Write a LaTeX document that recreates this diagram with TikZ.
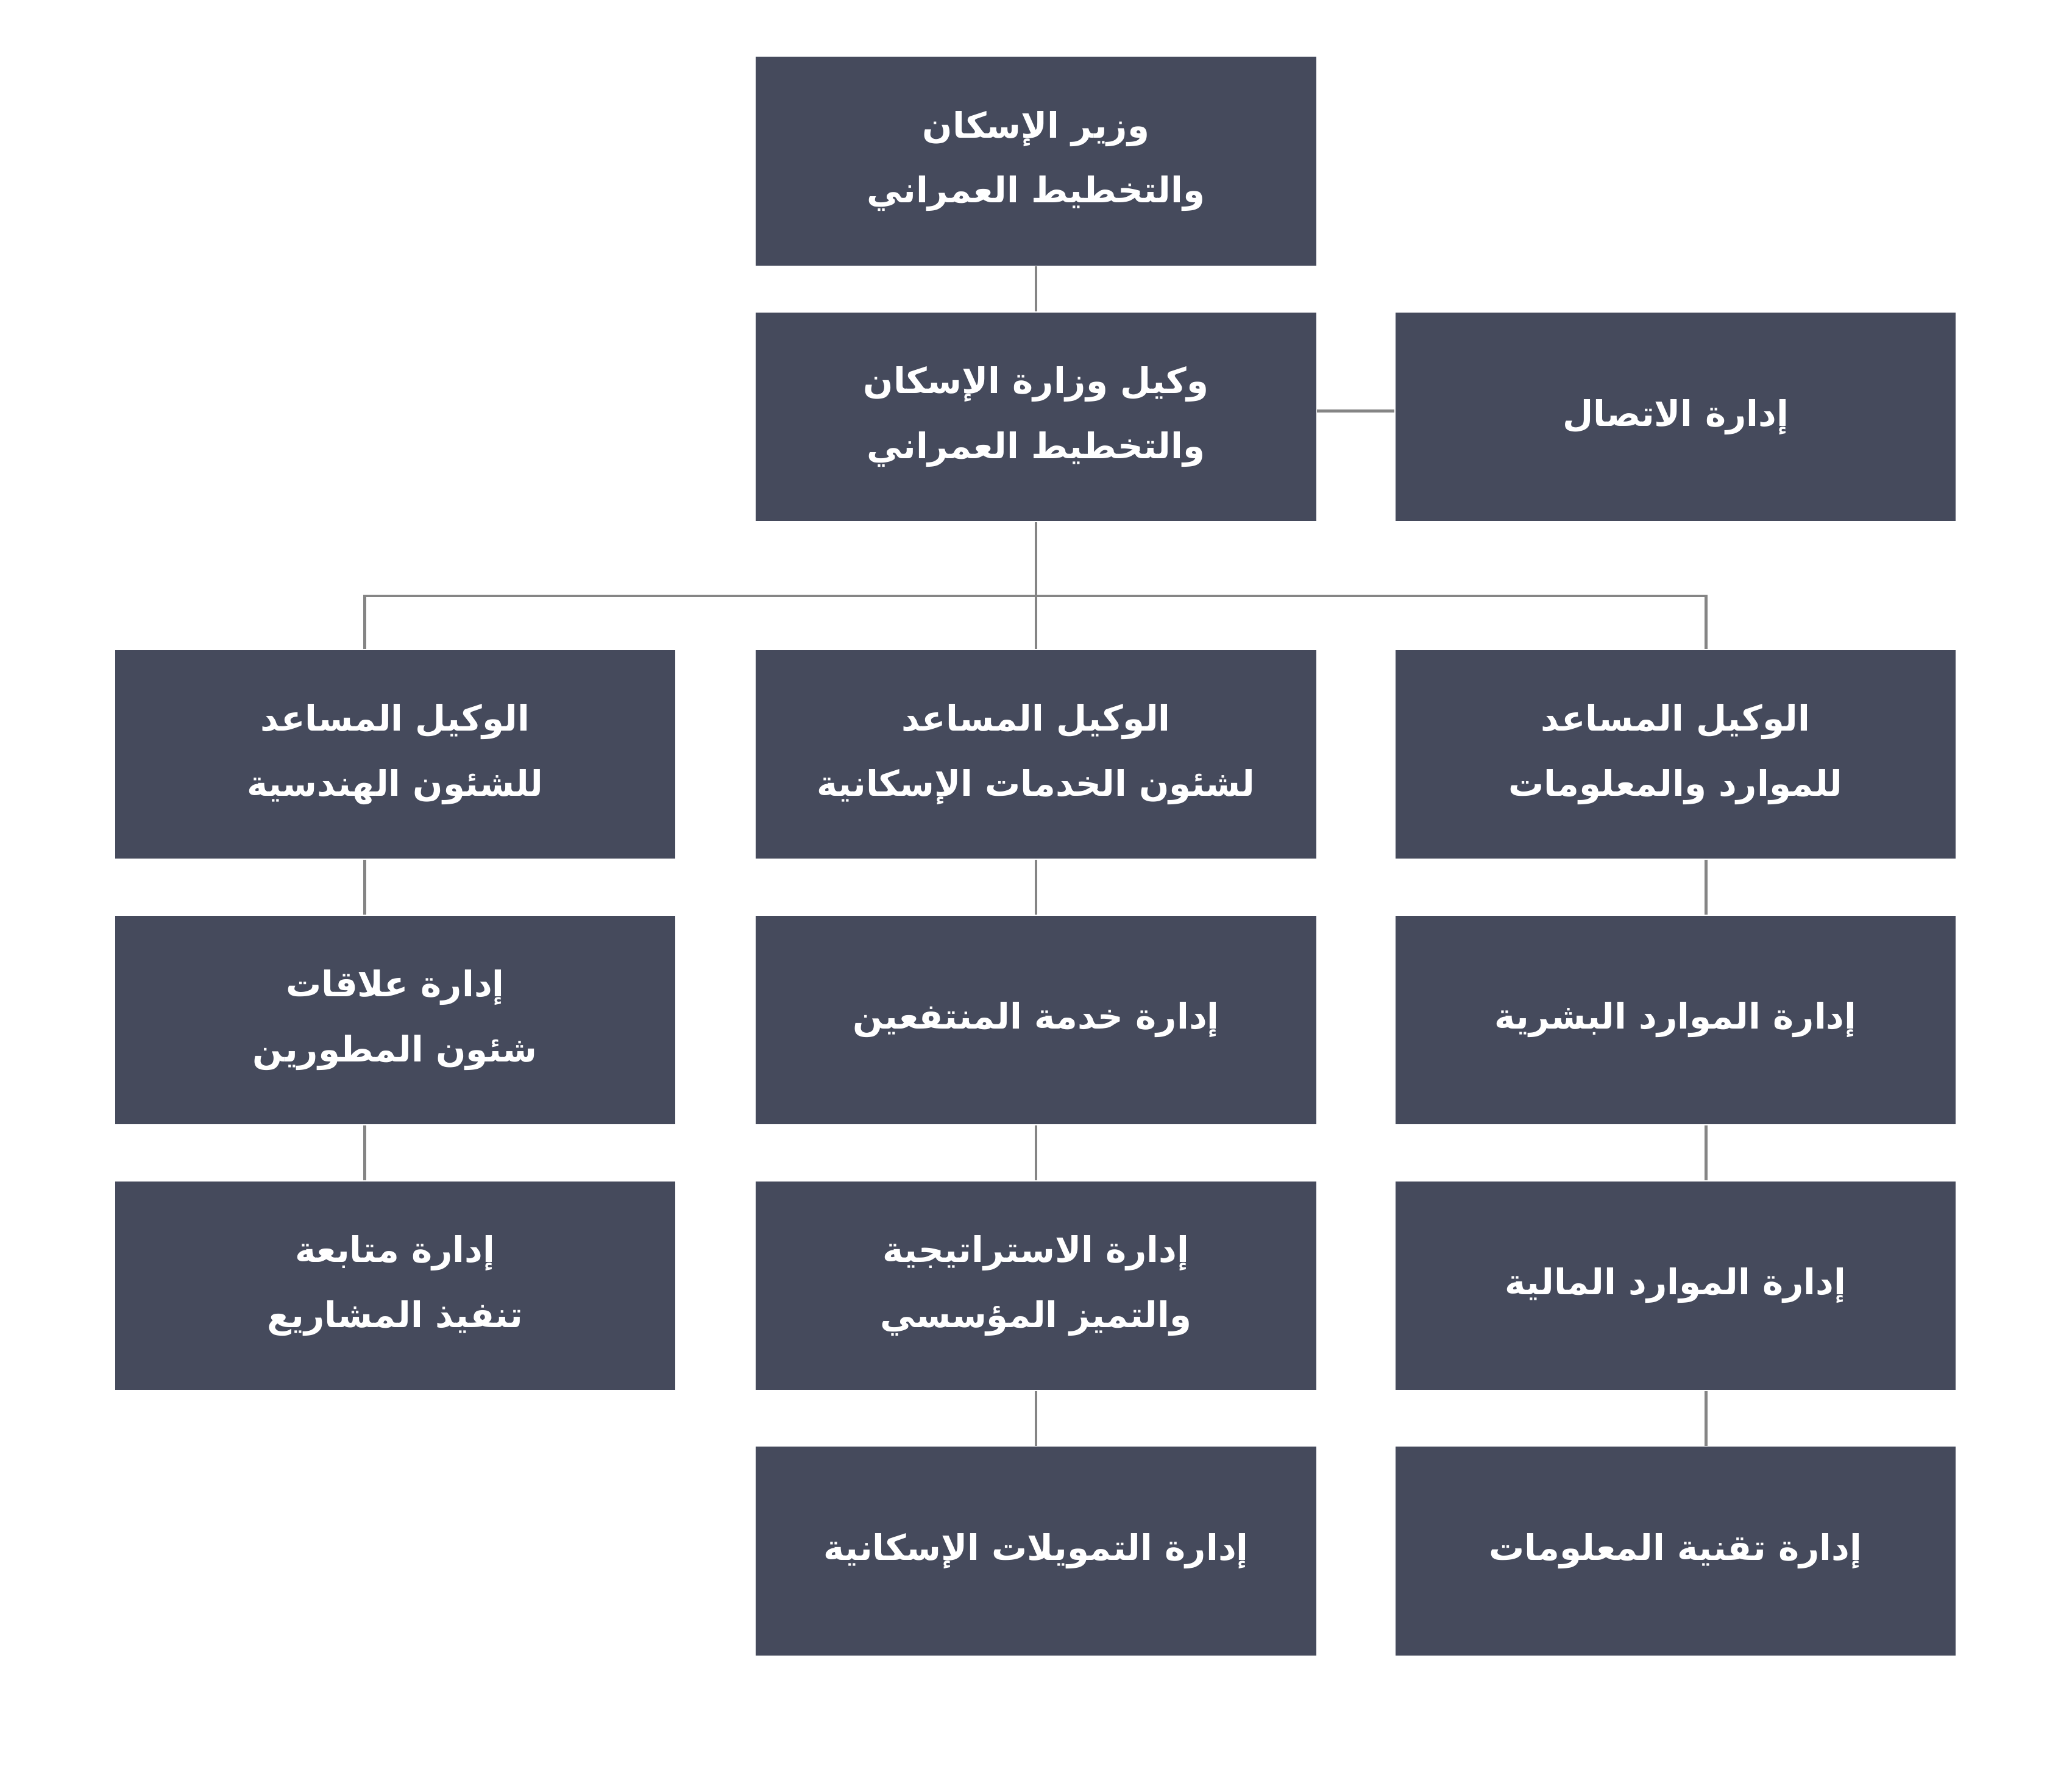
\documentclass[tikz,border=0pt]{standalone}
\usepackage{fontspec}
\newfontfamily\arabicfont[Script=Arabic]{DejaVu Sans}
\TeXXeTstate=1
\newcommand{\arline}[1]{\beginR #1\endR}
\definecolor{boxslate}{HTML}{454A5C}
\definecolor{linkgrey}{HTML}{858585}

\begin{document}
\begin{tikzpicture}[
  unit/.style={fill=boxslate,text=white,minimum width=4.24cm,minimum height=1.58cm,
    inner sep=0pt,align=center,font=\arabicfont\bfseries\fontsize{7.6}{14}\selectfont},
  link/.style={draw=linkgrey,line width=0.6pt}]
  \useasboundingbox (0,0) rectangle (15.68,-13.43);
  % القمة
  \node[unit] (minister) at (7.84,-1.22) {\arline{وزير الإسكان}\\\arline{والتخطيط العمراني}};
  \node[unit] (deputy) at (7.84,-3.155) {\arline{وكيل وزارة الإسكان}\\\arline{والتخطيط العمراني}};
  \node[unit] (comms) at (12.68,-3.155) {\arline{إدارة الاتصال}};
  % الوكلاء المساعدون
  \node[unit] (engAsst) at (2.99,-5.71) {\arline{الوكيل المساعد}\\\arline{للشئون الهندسية}};
  \node[unit] (svcAsst) at (7.84,-5.71) {\arline{الوكيل المساعد}\\\arline{لشئون الخدمات الإسكانية}};
  \node[unit] (resAsst) at (12.68,-5.71) {\arline{الوكيل المساعد}\\\arline{للموارد والمعلومات}};
  % الإدارات
  \node[unit] (devRel) at (2.99,-7.72) {\arline{إدارة علاقات}\\\arline{شئون المطورين}};
  \node[unit] (projFollow) at (2.99,-9.73) {\arline{إدارة متابعة}\\\arline{تنفيذ المشاريع}};
  \node[unit] (beneficiary) at (7.84,-7.72) {\arline{إدارة خدمة المنتفعين}};
  \node[unit] (strategy) at (7.84,-9.73) {\arline{إدارة الاستراتيجية}\\\arline{والتميز المؤسسي}};
  \node[unit] (finance) at (7.84,-11.74) {\arline{إدارة التمويلات الإسكانية}};
  \node[unit] (hr) at (12.68,-7.72) {\arline{إدارة الموارد البشرية}};
  \node[unit] (money) at (12.68,-9.73) {\arline{إدارة الموارد المالية}};
  \node[unit] (it) at (12.68,-11.74) {\arline{إدارة تقنية المعلومات}};
  % الروابط
  \draw[link] (minister) -- (deputy);
  \draw[link] ([yshift=0.045cm]deputy.east) -- ([yshift=0.045cm]comms.west);
  \coordinate (bus) at (7.84,-4.51);
  \draw[link] (deputy) -- (bus);
  \draw[link] ([xshift=-0.23cm]engAsst.north) |- (bus) -| ([xshift=0.23cm]resAsst.north);
  \draw[link] (bus) -- (svcAsst);
  \foreach \a/\b in {engAsst/devRel,devRel/projFollow}
    \draw[link] ([xshift=-0.23cm]\a.south) -- ([xshift=-0.23cm]\b.north);
  \foreach \a/\b in {svcAsst/beneficiary,beneficiary/strategy,strategy/finance}
    \draw[link] (\a) -- (\b);
  \foreach \a/\b in {resAsst/hr,hr/money,money/it}
    \draw[link] ([xshift=0.23cm]\a.south) -- ([xshift=0.23cm]\b.north);
\end{tikzpicture}
\end{document}
